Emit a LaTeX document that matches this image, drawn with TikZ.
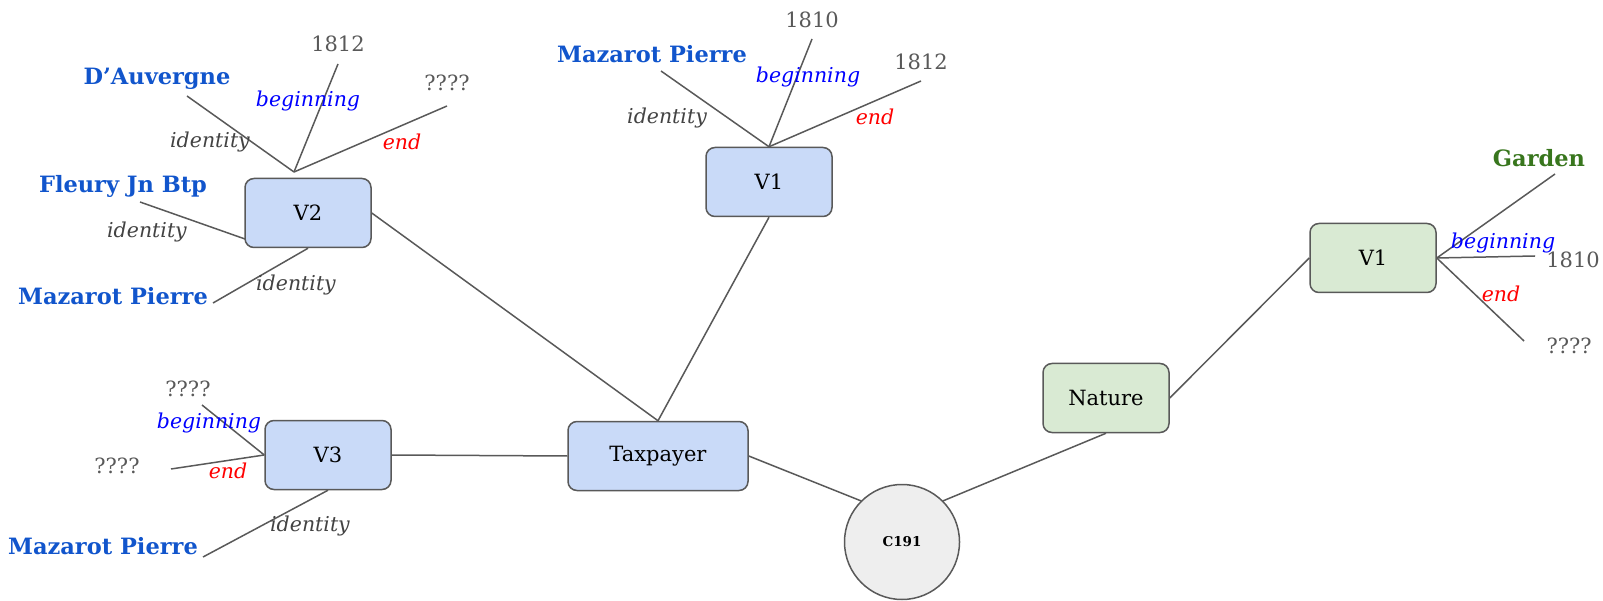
\documentclass[tikz,border=0pt]{standalone}
\usepackage{fontspec}
\setmainfont{DejaVu Serif}
\definecolor{linec}{HTML}{595959}
\definecolor{namec}{HTML}{1155CC}
\definecolor{gardc}{HTML}{38761D}
\definecolor{bluef}{HTML}{C9DAF8}
\definecolor{greenf}{HTML}{D9EAD3}
\definecolor{circf}{HTML}{EEEEEE}
\definecolor{idc}{HTML}{434343}
\begin{document}
\begin{tikzpicture}[x=1pt,y=-1pt,
  boxst/.style={draw=linec, line width=1.5pt, rounded corners=9pt, minimum width=126pt, minimum height=69pt, inner sep=0pt, font=\fontsize{21}{24}\selectfont},
  bbox/.style={boxst, fill=bluef},
  gbox/.style={boxst, fill=greenf},
  linkst/.style={draw=linec, line width=1.5pt},
  namest/.style={text=namec, font=\bfseries\fontsize{22.5}{26}\selectfont, inner sep=0pt},
  gardst/.style={text=gardc, font=\bfseries\fontsize{22.5}{26}\selectfont, inner sep=0pt},
  valst/.style={text=linec, font=\fontsize{21}{24}\selectfont, inner sep=0pt},
  idl/.style={text=idc, font=\itshape\fontsize{20.5}{24}\selectfont, inner sep=0pt},
  begl/.style={text=blue, font=\itshape\fontsize{20.5}{24}\selectfont, inner sep=0pt},
  endl/.style={text=red, font=\itshape\fontsize{20.5}{24}\selectfont, inner sep=0pt}
]
\useasboundingbox (0,0) rectangle (1603,601);

% main nodes
\node[bbox] (V2) at (308,213) {V2};
\node[bbox] (V1) at (769,182) {V1};
\node[bbox] (V3) at (328,455) {V3};
\node[bbox, minimum width=180pt] (tax) at (658,456) {Taxpayer};
\node[draw=linec, line width=1.5pt, fill=circf, circle, minimum size=115pt, inner sep=0pt, font=\bfseries\fontsize{13.5}{16}\selectfont] (C) at (902,542) {C191};
\node[gbox] (nat) at (1106,398) {Nature};
\node[gbox] (G1) at (1373,258) {V1};

% main connectors
\draw[linkst] (V2.east) -- (tax.north);
\draw[linkst] (V1.south) -- (tax.north);
\draw[linkst] (V3.east) -- (tax.west);
\draw[linkst] (tax.east) -- (C.135);
\draw[linkst] (C.45) -- (nat.south);
\draw[linkst] (nat.east) -- (G1.west);

% V2 spokes
\coordinate (j2) at (294,172);
\coordinate (a1) at (187,96);
\coordinate (a2) at (338,64);
\coordinate (a3) at (447,106);
\coordinate (a4) at (140,202);
\coordinate (a4e) at (245,239);
\coordinate (a5) at (213,303);
\draw[linkst] (j2) -- (a1);
\draw[linkst] (j2) -- (a2);
\draw[linkst] (j2) -- (a3);
\draw[linkst] (a4e) -- (a4);
\draw[linkst] (V2.south) -- (a5);
\node[namest] (n1) at (157,79) {D’Auvergne};
\node[valst] (n2) at (338,44) {1812};
\node[valst] (n3) at (447,83) {????};
\node[begl] (l1) at (308,101) {beginning};
\node[idl] (l2) at (210,142) {identity};
\node[endl] (l3) at (402,142) {end};
\node[namest] (n4) at (123,186) {Fleury Jn Btp};
\node[idl] (l4) at (147,232) {identity};
\node[namest] (n5) at (113,296) {Mazarot Pierre};
\node[idl] (l5) at (296,285) {identity};

% V1 spokes
\coordinate (b1) at (661,71);
\coordinate (b2) at (812,39);
\coordinate (b3) at (921,81);
\draw[linkst] (V1.north) -- (b1);
\draw[linkst] (V1.north) -- (b2);
\draw[linkst] (V1.north) -- (b3);
\node[namest] (m1) at (652,54) {Mazarot Pierre};
\node[valst] (m2) at (812,20) {1810};
\node[valst] (m3) at (921,62) {1812};
\node[begl] (k1) at (808,77) {beginning};
\node[idl] (k2) at (667,118) {identity};
\node[endl] (k3) at (875,117) {end};

% green V1 spokes
\coordinate (c1) at (1555,174);
\coordinate (c2) at (1535,256);
\coordinate (c3) at (1524,341);
\draw[linkst] (G1.east) -- (c1);
\draw[linkst] (G1.east) -- (c2);
\draw[linkst] (G1.east) -- (c3);
\node[gardst] (g1) at (1539,158) {Garden};
\node[valst] (g2) at (1573,260) {1810};
\node[valst] (g3) at (1569,346) {????};
\node[begl] (h1) at (1503,243) {beginning};
\node[endl] (h2) at (1501,294) {end};

% V3 spokes
\coordinate (d1) at (202,405);
\coordinate (d2) at (171,469);
\coordinate (d3) at (203,557);
\draw[linkst] (V3.west) -- (d1);
\draw[linkst] (V3.west) -- (d2);
\draw[linkst] (V3.south) -- (d3);
\node[valst] (e1) at (188,389) {????};
\node[valst] (e2) at (117,466) {????};
\node[begl] (f1) at (209,423) {beginning};
\node[endl] (f2) at (228,471) {end};
\node[namest] (e3) at (103,546) {Mazarot Pierre};
\node[idl] (f3) at (310,526) {identity};
\end{tikzpicture}
\end{document}
